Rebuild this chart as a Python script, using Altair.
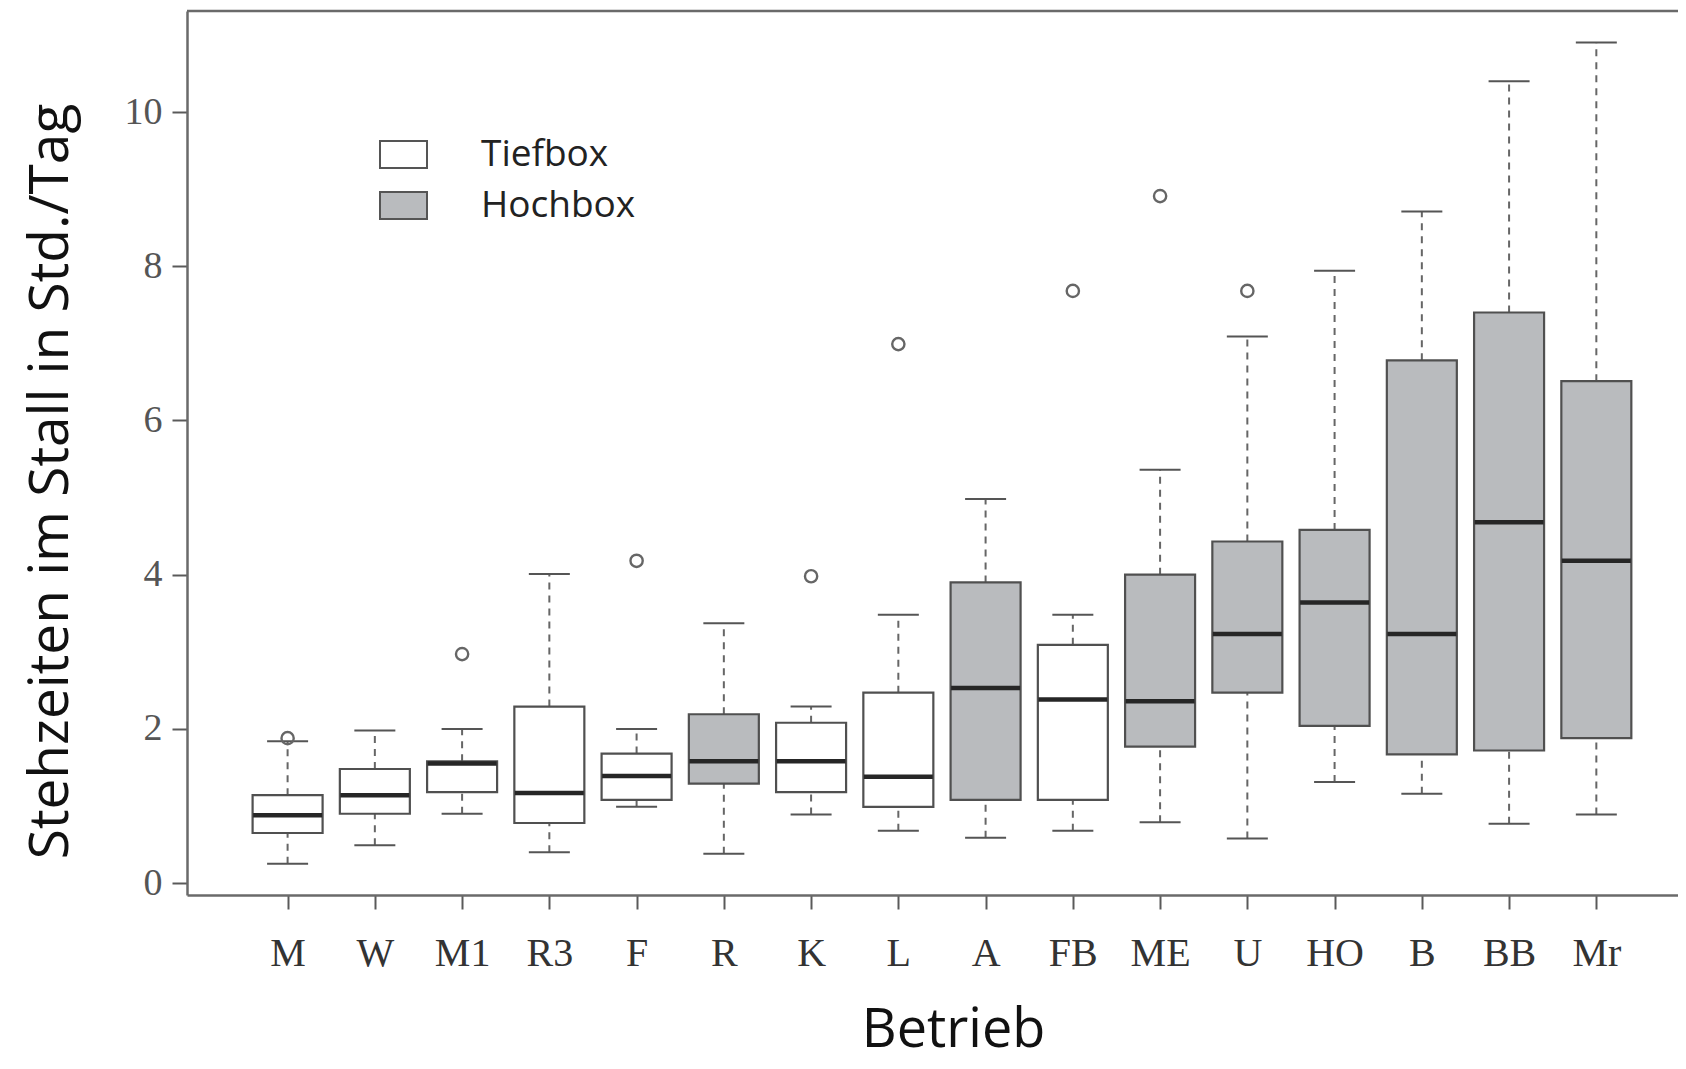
import altair as alt
import pandas as pd

# ---- data ----
categories = ["M", "W", "M1", "R3", "F", "R", "K", "L", "A", "FB", "ME", "U", "HO", "B", "BB", "Mr"]
box_type = ["Tiefbox", "Tiefbox", "Tiefbox", "Tiefbox", "Tiefbox", "Hochbox", "Tiefbox", "Tiefbox",
            "Hochbox", "Tiefbox", "Hochbox", "Hochbox", "Hochbox", "Hochbox", "Hochbox", "Hochbox"]
whisker_low = [0.25, 0.49, 0.90, 0.40, 0.99, 0.38, 0.89, 0.68, 0.59, 0.68, 0.79, 0.58, 1.31, 1.16, 0.77, 0.89]
q1 = [0.65, 0.90, 1.18, 0.78, 1.08, 1.29, 1.18, 0.99, 1.08, 1.08, 1.77, 2.47, 2.04, 1.67, 1.72, 1.88]
median = [0.88, 1.14, 1.55, 1.17, 1.39, 1.58, 1.58, 1.38, 2.53, 2.38, 2.36, 3.23, 3.64, 3.23, 4.68, 4.18]
q3 = [1.14, 1.48, 1.58, 2.29, 1.68, 2.19, 2.08, 2.47, 3.90, 3.09, 4.00, 4.43, 4.58, 6.78, 7.40, 6.51]
whisker_high = [1.84, 1.98, 2.00, 4.01, 2.00, 3.37, 2.29, 3.48, 4.98, 3.48, 5.36, 7.09, 7.94, 8.71, 10.40, 10.90]
outlier_cat = ["M", "M1", "F", "K", "L", "FB", "ME", "U"]
outlier_val = [1.88, 2.97, 4.18, 3.98, 6.99, 7.68, 8.91, 7.68]
legend_order = ["Tiefbox", "Hochbox"]
legend_colors = ["#ffffff", "#b9bbbe"]
y_ticks = [0, 2, 4, 6, 8, 10]

# ---- tables ----
df = pd.DataFrame({
    "idx": list(range(1, len(categories) + 1)),
    "Betrieb": categories,
    "Typ": box_type,
    "lo": whisker_low,
    "q1": q1,
    "med": median,
    "q3": q3,
    "hi": whisker_high,
})
pos = {c: i + 1 for i, c in enumerate(categories)}
df_out = pd.DataFrame({"idx": [pos[c] for c in outlier_cat], "val": outlier_val})

W = 1491
H = 884
GRAY = "#5a5a5a"

label_expr = "[" + ",".join(f"'{c}'" for c in categories) + "][datum.value - 1]"

x_scale = alt.Scale(domain=[-0.153, 16.936], nice=False, zero=False, padding=0)
y_scale = alt.Scale(domain=[-0.154, 11.31], nice=False, zero=False, padding=0)

x_enc = alt.X(
    "idx:Q", scale=x_scale, title="Betrieb",
    axis=alt.Axis(
        values=list(range(1, len(categories) + 1)), labelExpr=label_expr, grid=False,
        tickSize=14, tickWidth=2, tickColor=GRAY, domainColor="#6a6a6a", domainWidth=2.5,
        labelFont="Liberation Serif", labelFontSize=40, labelColor="#333333", labelPadding=24,
        labelFlush=False,
        titleFont="Open Sans", titleFontSize=54, titleFontWeight="normal", titleColor="#111111",
        titleX=766, titleY=151, titleBaseline="alphabetic", titleAlign="center",
    ),
)
y_axis = alt.Axis(
    values=y_ticks, format="d", grid=False, tickSize=15, tickWidth=2, tickColor=GRAY,
    domainColor="#6a6a6a", domainWidth=2.5,
    labelFont="Liberation Serif", labelFontSize=38, labelColor="#555555", labelPadding=10,
    labelFlush=False,
    titleFont="Open Sans", titleFontSize=55, titleFontWeight="normal", titleColor="#111111",
    titleAngle=270, titleX=-137, titleY=470, titleAlign="center", titleBaseline="middle",
)

base = alt.Chart(df)

whisk_lo = base.mark_rule(color="#666666", strokeWidth=2, strokeDash=[7, 6]).encode(
    x=x_enc, y=alt.Y("lo:Q", scale=y_scale, axis=y_axis, title="Stehzeiten im Stall in Std./Tag"),
    y2="q1:Q")
whisk_hi = base.mark_rule(color="#666666", strokeWidth=2, strokeDash=[7, 6]).encode(
    x="idx:Q", y="q3:Q", y2="hi:Q")
cap_lo = base.mark_tick(orient="horizontal", size=41, thickness=2, color="#555555", opacity=1).encode(
    x="idx:Q", y="lo:Q")
cap_hi = base.mark_tick(orient="horizontal", size=41, thickness=2, color="#555555", opacity=1).encode(
    x="idx:Q", y="hi:Q")
boxes = base.mark_bar(size=70, stroke="#505050", strokeWidth=2.2, opacity=1, orient="vertical").encode(
    x="idx:Q", y="q1:Q", y2="q3:Q",
    fill=alt.Fill("Typ:N", scale=alt.Scale(domain=legend_order, range=legend_colors),
                  sort=legend_order,
                  legend=alt.Legend(
                      title=None, orient="none", legendX=192, legendY=119, padding=0,
                      symbolType="M-1,-0.574H1V0.574H-1Z", symbolSize=2209,
                      symbolStrokeColor="#555555", symbolStrokeWidth=2, symbolOpacity=1,
                      labelFont="Open Sans", labelFontSize=37, labelColor="#222222",
                      labelOffset=53, rowPadding=8, labelLimit=400,
                  )),
)
medians = base.mark_tick(orient="horizontal", size=69, thickness=4.5, color="#262626", opacity=1).encode(
    x="idx:Q", y="med:Q")
outliers = alt.Chart(df_out).mark_point(shape="circle", size=150, filled=False, stroke="#666666",
                                        strokeWidth=2.4, opacity=1).encode(
    x="idx:Q", y="val:Q")
top_line = alt.Chart(alt.Data(values=[{"a": 1}])).mark_rule(color="#6a6a6a", strokeWidth=2.5).encode(
    x=alt.value(0), x2=alt.value(W), y=alt.value(0))

chart = alt.layer(whisk_lo, whisk_hi, cap_lo, cap_hi, boxes, medians, outliers, top_line).properties(
    width=W, height=H,
    autosize=alt.AutoSizeParams(type="none"),
    padding={"left": 179, "top": 3, "right": 0, "bottom": 166},
    background="white",
).configure_view(stroke=None)

chart.save("out.html", embed_options={"renderer": "svg", "actions": False})
